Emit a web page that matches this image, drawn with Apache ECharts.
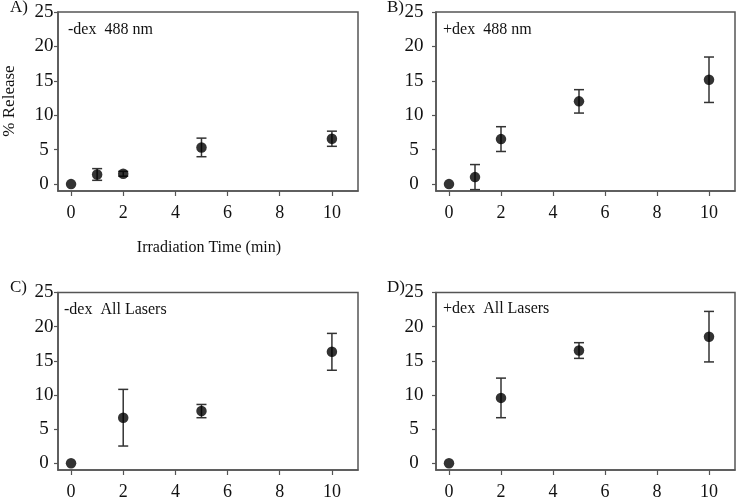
<!DOCTYPE html>
<html>
<head>
<meta charset="utf-8">
<script src="https://cdn.jsdelivr.net/npm/echarts@6/dist/echarts.min.js"></script>
<style>html,body{margin:0;padding:0;background:#fff}#c{width:736px;height:501px}</style>
</head>
<body>
<div id="c"></div>
<script>
const xTicks = [0, 2, 4, 6, 8, 10];
const yTicks = [0, 5, 10, 15, 20, 25];

const timesA = [0, 1, 2, 5, 10];
const meanA = [0, 1.4, 1.5, 5.33, 6.59];
const errA = [0, 0.85, 0.35, 1.35, 1.1];

const timesB = [0, 1, 2, 5, 10];
const meanB = [0, 1.02, 6.54, 12.02, 15.16];
const errB = [0, 1.82, 1.8, 1.7, 3.3];

const timesC = [0, 2, 5, 10];
const meanC = [0, 6.66, 7.63, 16.31];
const errC = [0, 4.15, 0.97, 2.7];

const timesD = [0, 2, 5, 10];
const meanD = [0, 9.56, 16.5, 18.53];
const errD = [0, 2.9, 1.15, 3.7];

const panelLabels = ['A)', 'B)', 'C)', 'D)'];
const panelTexts = ['-dex  488 nm', '+dex  488 nm', '-dex  All Lasers', '+dex  All Lasers'];
const xTitle = 'Irradiation Time (min)';
const yTitle = '% Release';

const FONT = '"Liberation Serif", "Times New Roman", serif';
const frame = '#555';
const panels = [
  {t: timesA, m: meanA, e: errA},
  {t: timesB, m: meanB, e: errB},
  {t: timesC, m: meanC, e: errC},
  {t: timesD, m: meanD, e: errD}
];
const grids = [
  {left: 58, top: 12, width: 300, height: 179},
  {left: 436, top: 12, width: 299, height: 179},
  {left: 58, top: 292.5, width: 300, height: 179.5},
  {left: 436, top: 292.5, width: 299, height: 179.5}
];
const yMargins = [14, 22, 14, 22];

const option = {
  animation: false,
  grid: grids.map(g => Object.assign({show: true, borderColor: frame, borderWidth: 1.5, containLabel: false}, g)),
  xAxis: grids.map((g, i) => ({
    type: 'value', gridIndex: i, min: -0.5, max: 11,
    axisLine: {show: true, onZero: false, lineStyle: {color: frame, width: 1.5}},
    axisTick: {show: true, inside: false, length: 5, customValues: xTicks, lineStyle: {color: frame, width: 1.2}},
    axisLabel: {show: true, customValues: xTicks, margin: 13, fontFamily: FONT, fontSize: 18, color: '#111'},
    splitLine: {show: false}
  })),
  yAxis: grids.map((g, i) => ({
    type: 'value', gridIndex: i, min: -1, max: 25,
    axisLine: {show: true, onZero: false, lineStyle: {color: frame, width: 1.5}},
    axisTick: {show: true, inside: false, length: 4, customValues: yTicks, lineStyle: {color: frame, width: 1.2}},
    axisLabel: {show: true, customValues: yTicks, margin: yMargins[i], align: 'center', fontFamily: FONT, fontSize: 19, color: '#111'},
    splitLine: {show: false}
  })),
  series: [],
  graphic: []
};

panels.forEach((p, i) => {
  const pts = p.t.map((t, k) => [t, p.m[k], p.e[k]]);
  option.series.push({
    type: 'custom', xAxisIndex: i, yAxisIndex: i, z: 2,
    data: pts.filter(d => d[2] > 0),
    renderItem: function (params, api) {
      const x = api.value(0), m = api.value(1), e = api.value(2);
      const hi = api.coord([x, m + e]);
      const lo = api.coord([x, m - e]);
      const w = 5;
      const st = {stroke: '#333', lineWidth: 1.5};
      return {type: 'group', children: [
        {type: 'line', shape: {x1: hi[0], y1: hi[1], x2: lo[0], y2: lo[1]}, style: st},
        {type: 'line', shape: {x1: hi[0] - w, y1: hi[1], x2: hi[0] + w, y2: hi[1]}, style: st},
        {type: 'line', shape: {x1: lo[0] - w, y1: lo[1], x2: lo[0] + w, y2: lo[1]}, style: st}
      ]};
    }
  });
  option.series.push({
    type: 'scatter', xAxisIndex: i, yAxisIndex: i, z: 3,
    symbol: 'circle', symbolSize: 10.5,
    itemStyle: {color: '#000'},
    data: pts.map(d => [d[0], d[1]])
  });
});

const labelPos = [[10, 8], [387, 8], [10, 288], [387, 288]];
const textPos = [[68, 30], [443, 30], [64, 310], [443, 309]];
labelPos.forEach((p, i) => {
  option.graphic.push({type: 'text', x: p[0], y: p[1], style: {text: panelLabels[i], font: '17px ' + FONT, fill: '#111', verticalAlign: 'middle', align: 'left'}});
  option.graphic.push({type: 'text', x: textPos[i][0], y: textPos[i][1], style: {text: panelTexts[i], font: '16px ' + FONT, fill: '#111', verticalAlign: 'middle', align: 'left'}});
});
option.graphic.push({type: 'text', x: 209, y: 248, style: {text: xTitle, font: '16px ' + FONT, fill: '#111', align: 'center', verticalAlign: 'middle'}});
option.graphic.push({type: 'text', x: 10, y: 101, rotation: Math.PI / 2, style: {text: yTitle, font: '17px ' + FONT, fill: '#111', align: 'center', verticalAlign: 'middle'}});

const chart = echarts.init(document.getElementById('c'), null, {renderer: 'canvas'});
chart.setOption(option);
</script>
</body>
</html>
